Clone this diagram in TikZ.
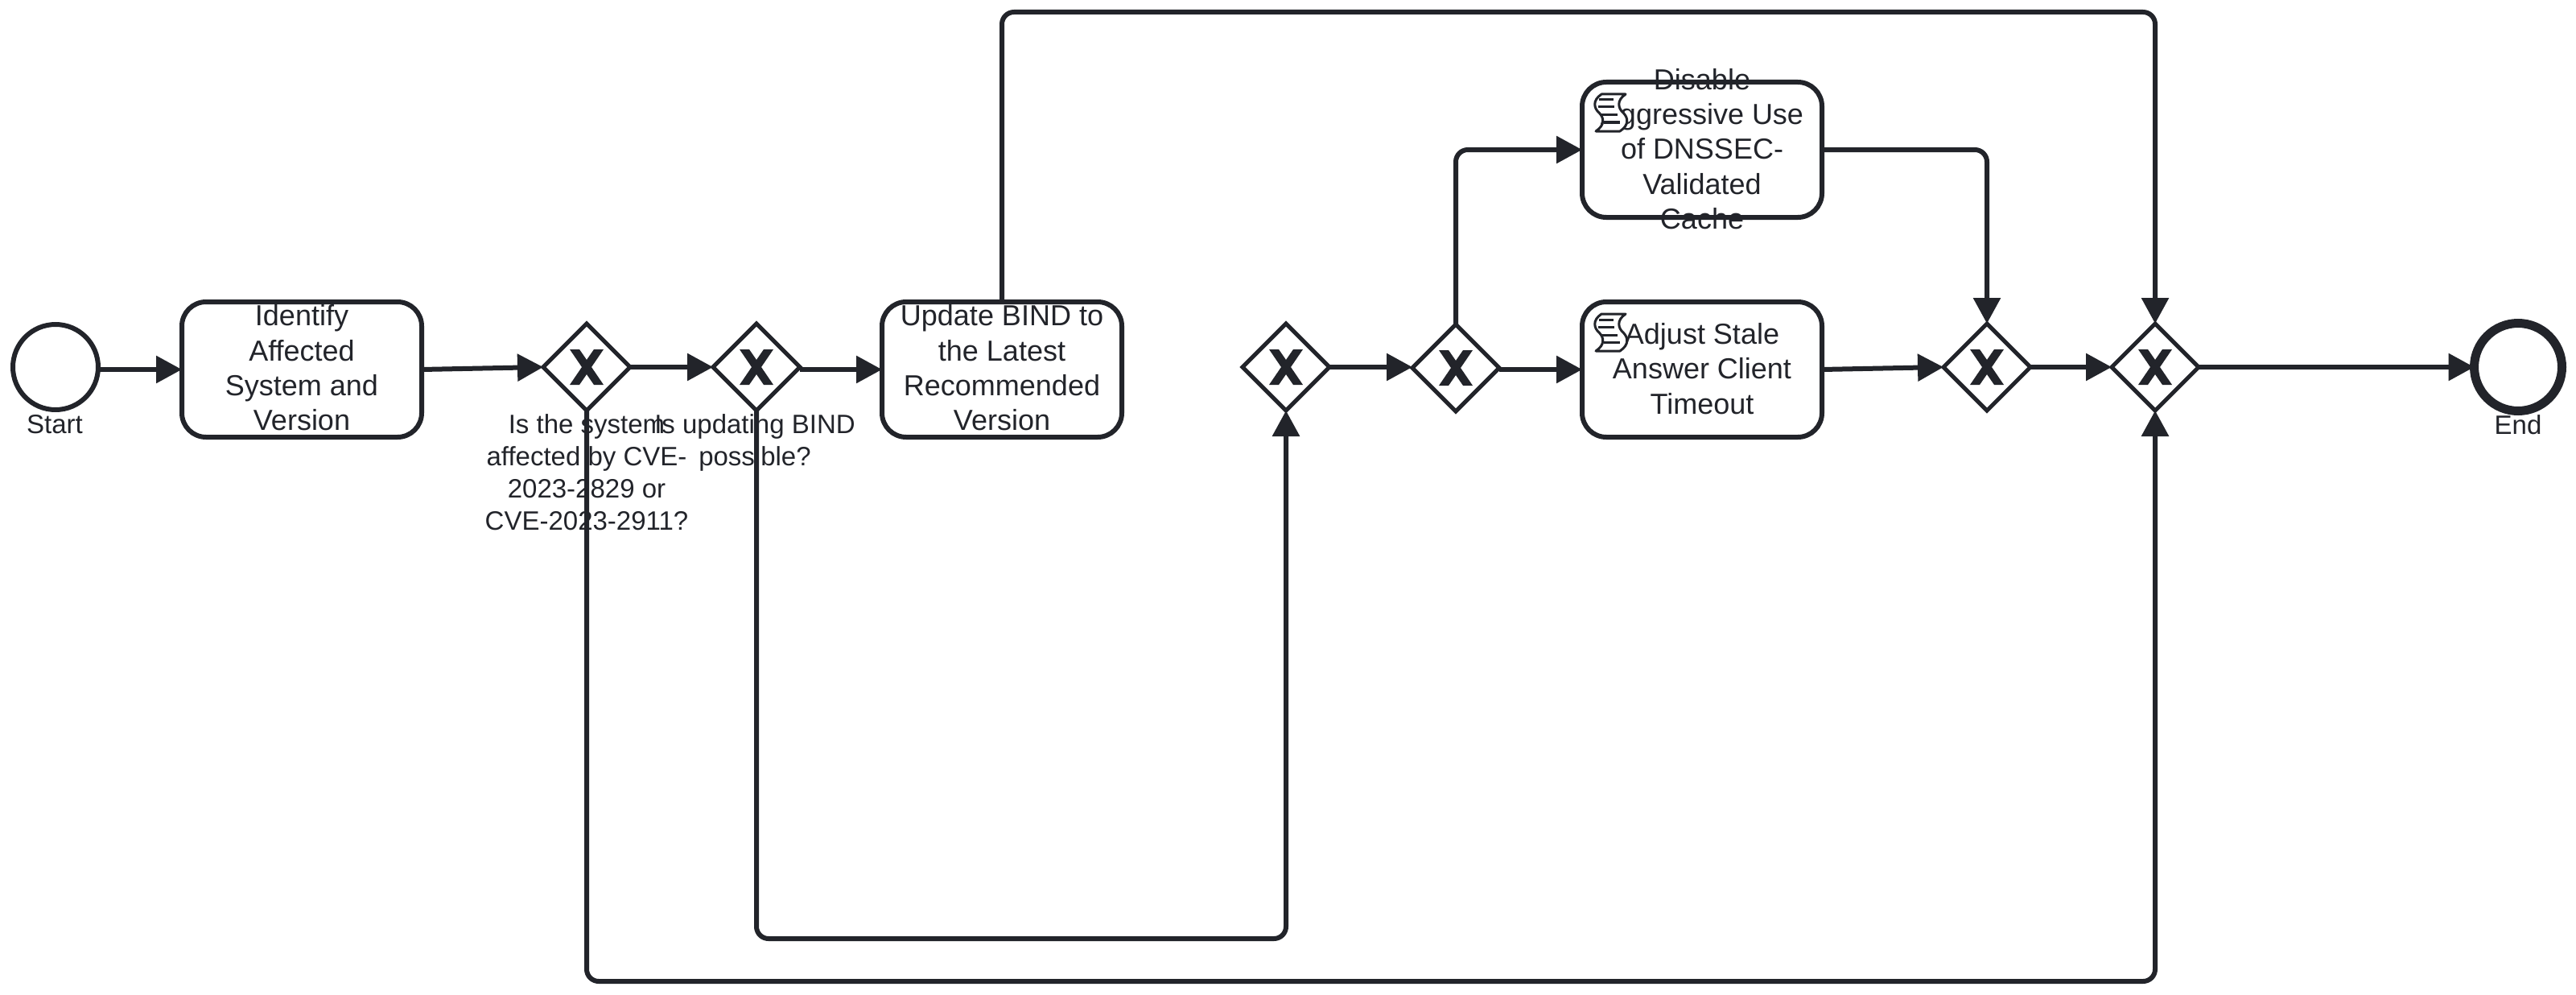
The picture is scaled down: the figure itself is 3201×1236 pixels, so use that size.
\documentclass[tikz,border=0pt]{standalone}
\usepackage{fontspec}
\setmainfont{Liberation Sans}
\usetikzlibrary{arrows.meta,shapes.geometric}
\definecolor{ink}{HTML}{22242A}
\tikzset{
  flow/.style={draw=ink,line width=6pt,rounded corners=15pt,-{Triangle[length=32pt,width=33pt]}},
  taskbox/.style={draw=ink,fill=white,line width=6pt,rounded corners=30pt,minimum width=298pt,minimum height=168pt,inner sep=0pt,outer sep=0pt},
  tasktext/.style={text=ink,align=center,inner sep=0pt,font=\fontsize{36}{43.4}\selectfont},
  labeltext/.style={text=ink,align=center,inner sep=0pt,anchor=north,font=\fontsize{33}{40}\selectfont},
  gatewaybox/.style={draw=ink,fill=white,line width=5pt,diamond,aspect=1,minimum width=108pt,minimum height=108pt,inner sep=0pt,outer sep=0pt,
    path picture={
      \fill[ink,shift={(path picture bounding box.center)}]
        (-21,-22) -- (-9,-22) -- (0,-9) -- (9,-22) -- (21,-22) -- (6,0) -- (21,22) -- (9,22) -- (0,9) -- (-9,22) -- (-21,22) -- (-6,0) -- cycle;
    }},
  startev/.style={circle,draw=ink,fill=white,line width=6pt,minimum size=106pt,inner sep=0pt,outer sep=0pt},
  endev/.style={circle,draw=ink,fill=white,line width=11pt,minimum size=109pt,inner sep=0pt,outer sep=0pt},
  scriptmark/.pic={
    \draw[ink,fill=white,line width=3pt,line join=round] (24,15) .. controls (12,23) and (15,33) .. (21,38) .. controls (27,44) and (29,53) .. (17,61) -- (47,61) .. controls (59,53) and (57,44) .. (51,38) .. controls (45,33) and (42,23) .. (54,15) -- cycle;
    \draw[ink,line width=3pt] (21,22) -- (39,22) (20,31) -- (40,31) (24,41) -- (44,41) (27,50) -- (47,50);
  }
}
\begin{document}
\begin{tikzpicture}[x=1pt,y=-1pt]
\useasboundingbox (0,0) rectangle (3201,1236);
% labels lie under the connectors
\node[labeltext] (lg1) at (729,514) {Is the system\\affected by CVE-\\2023-2829 or\\CVE-2023-2911?};
\node[labeltext] (lg2) at (938,514) {Is updating BIND\\possible?};
% events
\node[startev] (start) at (69,456) {};
\node[endev] (end) at (3129,456) {};
\node[labeltext] (lstart) at (68,515) {Start};
\node[labeltext] (lend) at (3129,515) {End};
% tasks
\node[taskbox] (t1) at (375,459) {};
\node[taskbox] (t2) at (1245,459) {};
\node[taskbox] (t3) at (2115,186) {};
\node[taskbox] (t4) at (2115,459) {};
\node[tasktext] (t1text) at (375,457) {Identify\\Affected\\System and\\Version};
\node[tasktext] (t2text) at (1245,457) {Update BIND to\\the Latest\\Recommended\\Version};
\node[tasktext] (t3text) at (2115,185) {Disable\\Aggressive Use\\of DNSSEC-\\Validated\\Cache};
\node[tasktext] (t4text) at (2115,458) {Adjust Stale\\Answer Client\\Timeout};
\pic at (t3.north west) {scriptmark};
\pic at (t4.north west) {scriptmark};
% gateways
\node[gatewaybox] (g1) at (729,456) {};
\node[gatewaybox] (g2) at (940,456) {};
\node[gatewaybox] (g3) at (1598,456) {};
\node[gatewaybox] (g4) at (1809,457) {};
\node[gatewaybox] (g5) at (2469,456) {};
\node[gatewaybox] (g6) at (2678,456) {};
% routing levels
\coordinate (top) at (1800,15);
\coordinate (low) at (1800,1219);
\coordinate (mid) at (1200,1166);
% connectors
\draw[flow] (start.east |- t1.west) -- (t1.west);
\draw[flow] (t1.east) -- (g1.west);
\draw[flow] (g1.east) -- (g2.west);
\draw[flow] (g2.east |- t2.west) -- (t2.west);
\draw[flow] (g3.east) -- (g3.east -| g4.west);
\draw[flow] (g4.east |- t4.west) -- (t4.west);
\draw[flow] (t4.east) -- (g5.west);
\draw[flow] (g5.east) -- (g6.west);
\draw[flow] (g6.east) -- (end.west);
\draw[flow] (g4.north) |- (t3.west);
\draw[flow] (t3.east) -| (g5.north);
\draw[flow] (t2.north) -- (t2.north |- top) -- (g6.north |- top) -- (g6.north);
\draw[flow] (g1.south) -- (g1.south |- low) -- (g6.south |- low) -- (g6.south);
\draw[flow] (g2.south) -- (g2.south |- mid) -- (g3.south |- mid) -- (g3.south);
\end{tikzpicture}
\end{document}
